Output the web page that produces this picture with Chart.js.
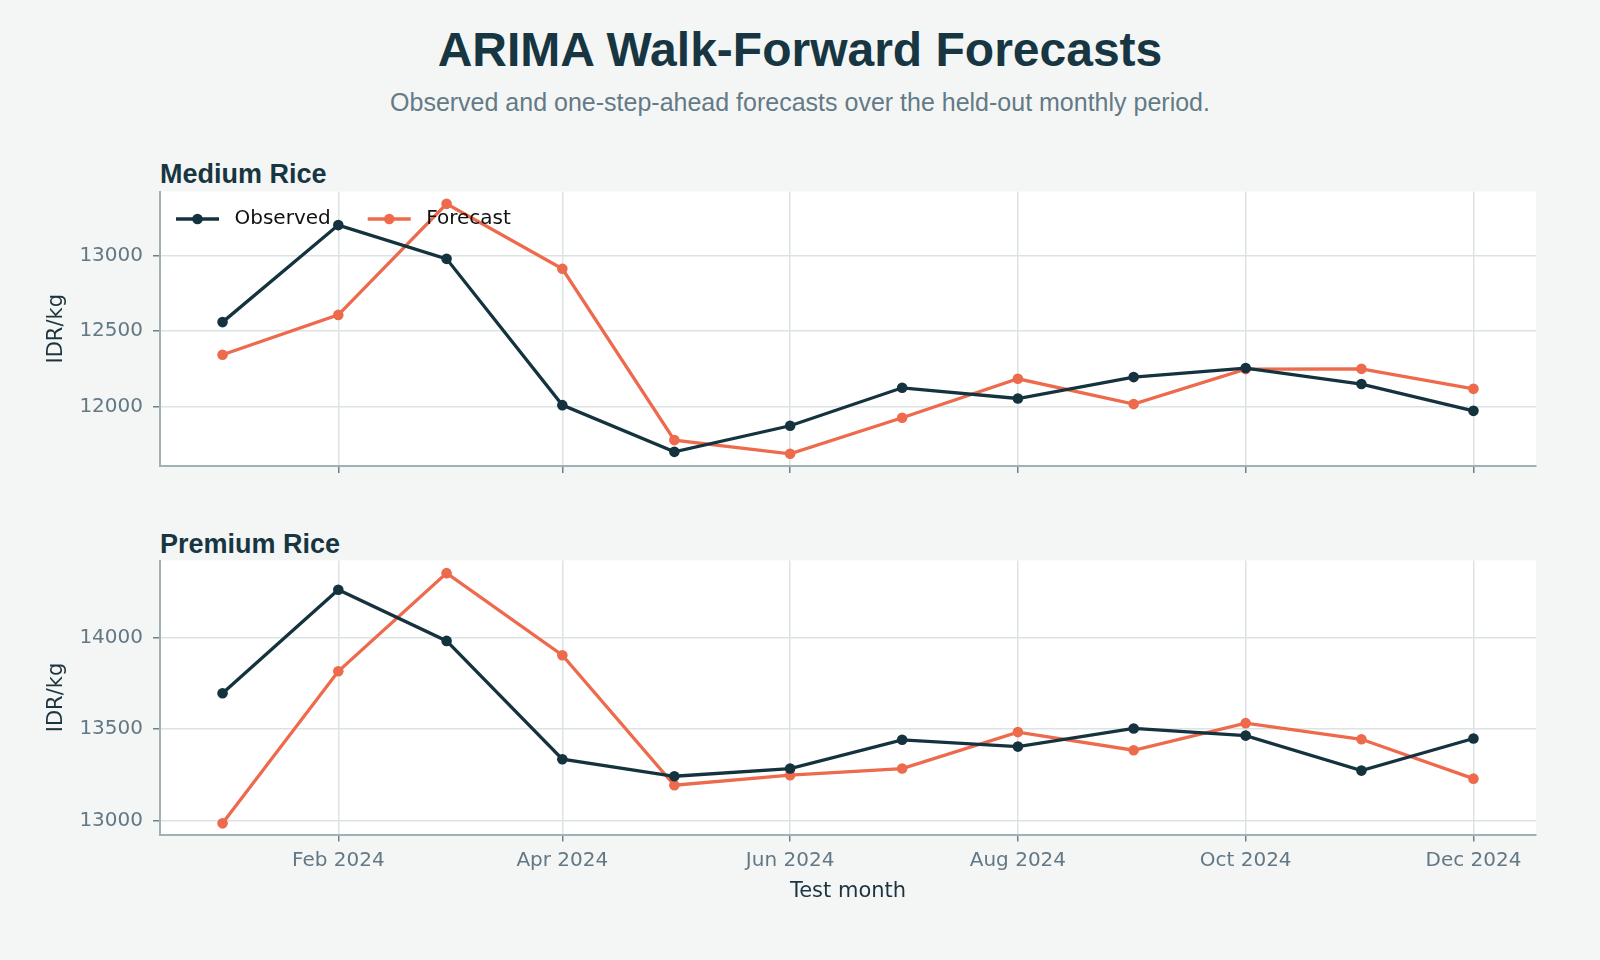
<!DOCTYPE html>
<html>
<head>
<meta charset="utf-8">
<script src="https://cdn.jsdelivr.net/npm/chart.js@4.4.1/dist/chart.umd.min.js"></script>
<style>
  html, body { margin: 0; padding: 0; background: #f4f6f5; }
  body { width: 1600px; height: 960px; position: relative; overflow: hidden; font-family: "Liberation Sans", Arial, sans-serif; }
  .t { position: absolute; white-space: nowrap; line-height: 1; }
  #title { left: 0; width: 1600px; text-align: center; top: 26px; font-size: 48px; font-weight: bold; color: #173642; }
  #subtitle { left: 0; width: 1600px; text-align: center; top: 90px; font-size: 25px; color: #647a86; }
  .panel { left: 160px; font-size: 27px; font-weight: bold; color: #173642; }
  canvas { position: absolute; left: 0; }
</style>
</head>
<body>
<div id="title" class="t">ARIMA Walk-Forward Forecasts</div>
<div id="subtitle" class="t">Observed and one-step-ahead forecasts over the held-out monthly period.</div>
<div id="p1" class="t panel" style="top:161px">Medium Rice</div>
<div id="p2" class="t panel" style="top:531px">Premium Rice</div>
<canvas id="c1" width="1600" height="350" style="top:150px"></canvas>
<canvas id="c2" width="1600" height="400" style="top:520px"></canvas>
<script>
// ---- data ----
const months = ['2024-01-01','2024-02-01','2024-03-01','2024-04-01','2024-05-01','2024-06-01',
                '2024-07-01','2024-08-01','2024-09-01','2024-10-01','2024-11-01','2024-12-01'];
const tickMonths = ['2024-02-01','2024-04-01','2024-06-01','2024-08-01','2024-10-01','2024-12-01'];
const tickLabels = ['Feb 2024','Apr 2024','Jun 2024','Aug 2024','Oct 2024','Dec 2024'];
const seriesNames = ['Observed','Forecast'];
const mediumObserved = [12560, 13204, 12980, 12009, 11699, 11872, 12124, 12053, 12195, 12255, 12149, 11971];
const mediumForecast = [12343, 12608, 13345, 12914, 11777, 11686, 11925, 12184, 12016, 12248, 12250, 12117];
const premiumObserved = [13696, 14261, 13982, 13336, 13243, 13285, 13442, 13405, 13504, 13465, 13274, 13449];
const premiumForecast = [12986, 13816, 14352, 13904, 13194, 13249, 13285, 13484, 13385, 13533, 13445, 13230];
const mediumYTicks = [12000, 12500, 13000];
const premiumYTicks = [13000, 13500, 14000];

// ---- helpers ----
const DAY = 86400000;
const t0 = Date.UTC(2024, 0, 1);
function dayOf(s) { const [y, m, d] = s.split('-').map(Number); return (Date.UTC(y, m - 1, d) - t0) / DAY; }
const xs = months.map(dayOf);
const xTicks = tickMonths.map(dayOf);
const xSpan = xs[xs.length - 1] - xs[0];
const xMin = xs[0] - 0.05 * xSpan, xMax = xs[xs.length - 1] + 0.05 * xSpan;

const C_OBS = '#15333e', C_FC = '#ee6a4d';
const GRID = '#dce3e3', SPINE = '#a0b0b3', TICKC = '#6f8188', TICKLAB = '#627884', AXT = '#1c3440';
const DV = "'DejaVu Sans', sans-serif";

function pts(vals) { return vals.map((v, i) => ({ x: xs[i], y: v })); }
function ds(label, vals, color) {
  return { label, data: pts(vals), borderColor: color, backgroundColor: color, borderWidth: 3.3,
    pointRadius: 5.3, pointHoverRadius: 5.3, pointBorderWidth: 0, tension: 0, fill: false };
}

const bgPlugin = {
  id: 'plotBg',
  beforeDraw(chart) {
    const { ctx, chartArea: a } = chart;
    ctx.save(); ctx.fillStyle = '#ffffff';
    ctx.fillRect(a.left, a.top, a.right - a.left, a.bottom - a.top);
    ctx.restore();
  }
};

const legendPlugin = {
  id: 'innerLegend',
  afterDatasetsDraw(chart, args, opts) {
    if (!opts.show) return;
    const { ctx } = chart;
    const y = 69;
    let x = 176;
    ctx.save();
    ctx.font = "20px " + DV;
    ctx.textBaseline = 'middle';
    chart.data.datasets.forEach((d) => {
      ctx.strokeStyle = d.borderColor; ctx.lineWidth = 3.3;
      ctx.beginPath(); ctx.moveTo(x, y); ctx.lineTo(x + 43, y); ctx.stroke();
      ctx.fillStyle = d.borderColor;
      ctx.beginPath(); ctx.arc(x + 21.5, y, 5.3, 0, Math.PI * 2); ctx.fill();
      ctx.fillStyle = '#111111';
      ctx.fillText(d.label, x + 58.5, y);
      x += 58.5 + ctx.measureText(d.label).width + 37;
    });
    ctx.restore();
  }
};

function makeChart(id, obs, fc, yMin, yMax, yTicks, showXLabels, legend, padTop, xAxisH) {
  return new Chart(document.getElementById(id), {
    type: 'line',
    data: { datasets: [ds(seriesNames[0], obs, C_OBS), ds(seriesNames[1], fc, C_FC)] },
    plugins: [bgPlugin, legendPlugin],
    options: {
      responsive: false, animation: false, devicePixelRatio: 1,
      layout: { padding: { left: 0, right: 64, top: padTop, bottom: 0 } },
      plugins: { legend: { display: false }, tooltip: { enabled: false }, title: { display: false },
        innerLegend: { show: legend } },
      scales: {
        x: {
          type: 'linear', min: xMin, max: xMax,
          afterBuildTicks(s) { s.ticks = xTicks.map(v => ({ value: v })); },
          afterFit(s) { s.height = xAxisH; },
          grid: { color: GRID, lineWidth: 1.5, drawTicks: true, tickLength: 7, tickColor: TICKC, tickWidth: 1.5 },
          border: { display: true, color: SPINE, width: 2 },
          ticks: { display: showXLabels, color: TICKLAB, padding: 7, font: { family: DV, size: 20 },
            maxRotation: 0, autoSkip: false,
            callback: (v) => { const i = xTicks.indexOf(v); return i >= 0 ? tickLabels[i] : ''; } },
          title: { display: showXLabels, text: 'Test month', color: AXT, font: { family: DV, size: 21 },
            padding: { top: 0, bottom: 16 } }
        },
        y: {
          min: yMin, max: yMax,
          afterBuildTicks(s) { s.ticks = yTicks.map(v => ({ value: v })); },
          afterFit(s) { s.width = 160; },
          grid: { color: GRID, lineWidth: 1.5, drawTicks: true, tickLength: 7, tickColor: TICKC, tickWidth: 1.5 },
          border: { display: true, color: SPINE, width: 2 },
          ticks: { color: TICKLAB, padding: 10, font: { family: DV, size: 20 }, callback: (v) => String(v) },
          title: { display: true, text: 'IDR/kg', color: AXT, font: { family: DV, size: 21 },
            padding: { top: 44, bottom: 0 } }
        }
      }
    }
  });
}

makeChart('c1', mediumObserved, mediumForecast, 11605, 13427, mediumYTicks, false, true, 41.5, 34);
makeChart('c2', premiumObserved, premiumForecast, 12925, 14421, premiumYTicks, true, false, 40.5, 85.5);
</script>
</body>
</html>
